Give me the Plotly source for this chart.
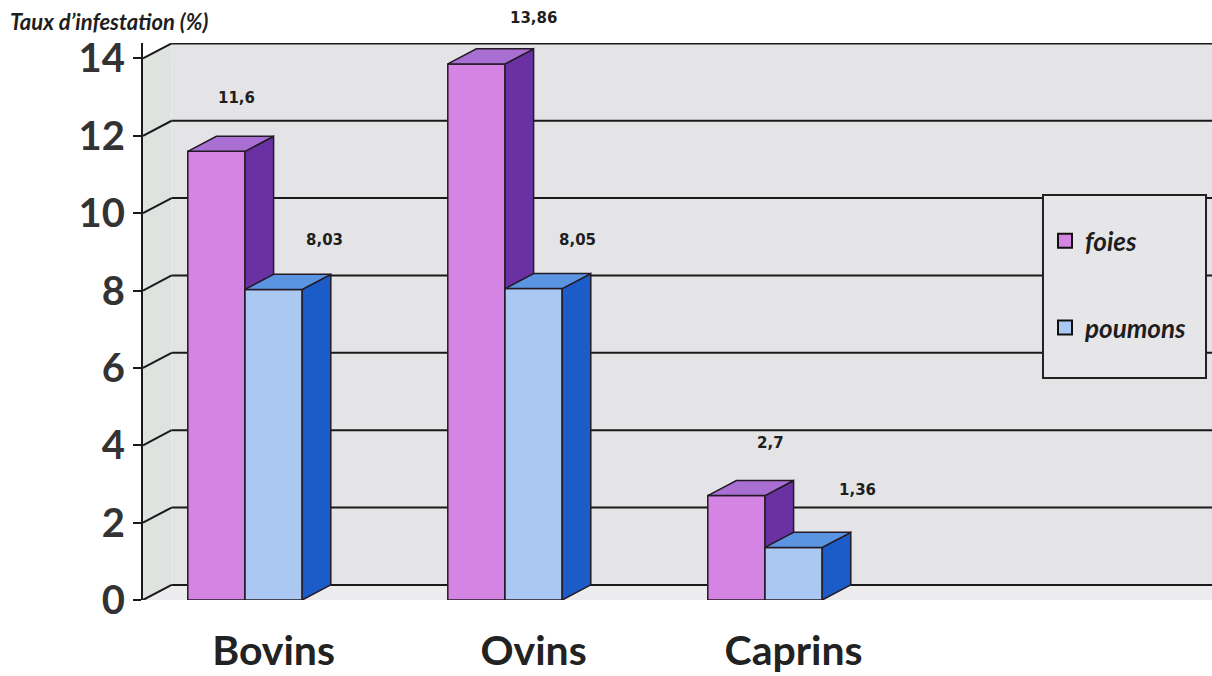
import plotly.graph_objects as go

# Infestation rates (%) per species and organ
categories = ["Bovins", "Ovins", "Caprins"]
foies = [11.6, 13.86, 2.7]
poumons = [8.03, 8.05, 1.36]
y_ticks = [0, 2, 4, 6, 8, 10, 12, 14]

# pseudo-3D geometry (axis units)
BAR_W = 0.22
DX, DY = 0.11, 0.39
X_LEFT, X_RIGHT = -0.3923, 3.7192
Y_TOP = 14.4

COLORS = {
    "foies": {"front": "#d484e2", "side": "#6a31a2", "top": "#a96fd3"},
    "poumons": {"front": "#aac8f1", "side": "#1b5cc8", "top": "#5b95e2"},
}
EDGE = "#231a25"

# pixel nudges for the value labels (x, y) per series/category
LABEL_SHIFT = {
    "foies": [(20, 53), (57, 46), (34, 53)],
    "poumons": [(51, 49), (44, 49), (64, 57)],
}


def fmt(v):
    return f"{v:g}".replace(".", ",")


def faces(values, offset):
    fx, fy, sx, sy, tx, ty = [], [], [], [], [], []
    for i, v in enumerate(values):
        x0 = i + offset
        x1 = x0 + BAR_W
        fx += [x0, x1, x1, x0, x0, None]
        fy += [0, 0, v, v, 0, None]
        sx += [x1, x1 + DX, x1 + DX, x1, x1, None]
        sy += [0, DY, v + DY, v, 0, None]
        tx += [x0, x1, x1 + DX, x0 + DX, x0, None]
        ty += [v, v, v + DY, v + DY, v, None]
    return (fx, fy), (sx, sy), (tx, ty)


fig = go.Figure()
annotations = []

for name, values, offset in [("foies", foies, -BAR_W), ("poumons", poumons, 0.0)]:
    front, side, top = faces(values, offset)
    for (xs, ys), face in [(front, "front"), (side, "side"), (top, "top")]:
        fig.add_trace(go.Scatter(
            x=xs, y=ys, mode="lines", fill="toself",
            fillcolor=COLORS[name][face],
            line=dict(color=EDGE, width=1.5),
            hoverinfo="skip", showlegend=False,
        ))
    # legend entry
    fig.add_trace(go.Scatter(
        x=[None], y=[None], mode="markers", name=name, legendgroup=name,
        marker=dict(symbol="square", size=14, color=COLORS[name]["front"],
                    line=dict(color="#111", width=2)),
    ))
    for i, v in enumerate(values):
        xs_, ys_ = LABEL_SHIFT[name][i]
        annotations.append(dict(
            x=i + offset + BAR_W / 2, y=v, xref="x", yref="y",
            text=fmt(v), showarrow=False, xshift=xs_, yshift=ys_,
            font=dict(family="DejaVu Sans", size=15, color="#1e1e1e", weight="bold"),
        ))

# walls, floor and gridlines
shapes = []
wall = "#e4e4e7"
shapes.append(dict(type="path", xref="x", yref="y", layer="below",
                   path=f"M{X_LEFT},0 L{X_LEFT + DX},{DY} L{X_LEFT + DX},{14 + DY} L{X_LEFT},14 Z",
                   fillcolor="#dfe3e0", line=dict(width=0)))
shapes.append(dict(type="rect", xref="x", yref="y", layer="below",
                   x0=X_LEFT + DX, x1=X_RIGHT + 1, y0=DY, y1=14 + DY,
                   fillcolor=wall, line=dict(width=0)))
shapes.append(dict(type="path", xref="x", yref="y", layer="below",
                   path=f"M{X_LEFT},0 L{X_LEFT + DX},{DY} L{X_RIGHT + 1},{DY} L{X_RIGHT + 1},0 Z",
                   fillcolor="#ececee", line=dict(width=0)))
for t in y_ticks:
    shapes.append(dict(type="line", xref="x", yref="y", layer="below",
                       x0=X_LEFT, y0=t, x1=X_LEFT + DX, y1=t + DY,
                       line=dict(color="#1a1a1a", width=2)))
    shapes.append(dict(type="line", xref="x", yref="y", layer="below",
                       x0=X_LEFT + DX, y0=t + DY, x1=X_RIGHT + 1, y1=t + DY,
                       line=dict(color="#1a1a1a", width=2)))

# legend frame
shapes.append(dict(type="rect", xref="paper", yref="paper", layer="above",
                   x0=0.8419, x1=0.9944, y0=0.3986, y1=0.7271,
                   fillcolor="#e6e6e9", line=dict(color="#222", width=2)))

annotations.append(dict(
    x=-0.1263, y=1.038, xref="paper", yref="paper", xanchor="left", yanchor="middle",
    text="Taux d’infestation (%)", showarrow=False,
    font=dict(family="Lato", size=22, color="#1e1e1e", weight="bold", style="italic"),
))

fig.update_layout(
    width=1212, height=676,
    margin=dict(l=143, r=0, t=43, b=76),
    paper_bgcolor="white", plot_bgcolor="white",
    shapes=shapes, annotations=annotations,
    showlegend=True,
    legend=dict(
        x=0.8438, y=0.687, xanchor="left", yanchor="top",
        bgcolor="rgba(0,0,0,0)", borderwidth=0,
        traceorder="grouped", tracegroupgap=50,
        font=dict(family="Lato", size=26, color="#1e1e1e", weight="bold", style="italic"),
        itemwidth=30,
    ),
    xaxis=dict(
        range=[X_LEFT, X_RIGHT], showgrid=False, zeroline=False, showline=False,
        automargin=False,
        tickvals=[i + DX for i in range(len(categories))], ticktext=categories,
        ticks="", ticklabelstandoff=23,
        tickfont=dict(family="Lato", size=41, color="#222", weight="bold"),
    ),
    yaxis=dict(
        range=[0, Y_TOP], showgrid=False, zeroline=False, automargin=False,
        showline=True, linecolor="#1a1a1a", linewidth=2,
        tickvals=y_ticks, ticks="outside", ticklen=8, tickwidth=2, tickcolor="#1a1a1a",
        tickfont=dict(family="Lato", size=40, color="#333", weight="bold"),
    ),
)

fig.write_html("out.html")
